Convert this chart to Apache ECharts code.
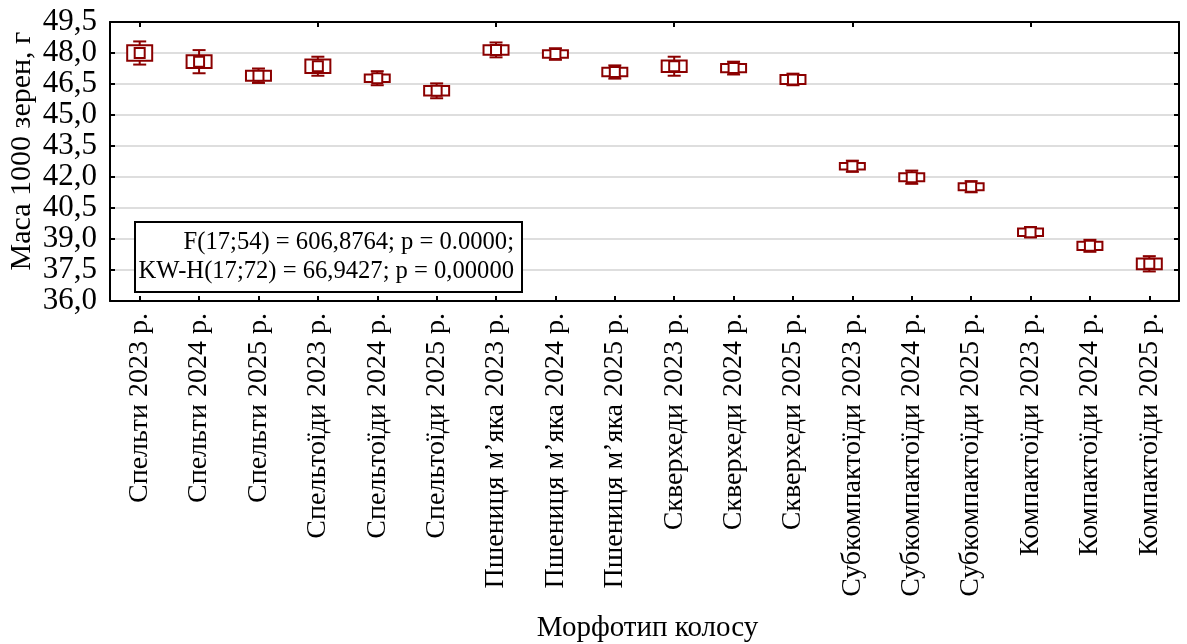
<!DOCTYPE html>
<html>
<head>
<meta charset="utf-8">
<script src="https://cdn.jsdelivr.net/npm/echarts@6/dist/echarts.min.js"></script>
<style>
  html, body { margin: 0; padding: 0; background: #fff; }
  #chart { width: 1187px; height: 644px; }
</style>
</head>
<body>
<div id="chart"></div>
<script>
// Thousand-kernel weight by spike morphotype and year
const categories = [
  'Спельти 2023 р.', 'Спельти 2024 р.', 'Спельти 2025 р.',
  'Спельтоїди 2023 р.', 'Спельтоїди 2024 р.', 'Спельтоїди 2025 р.',
  'Пшениця м’яка 2023 р.', 'Пшениця м’яка 2024 р.', 'Пшениця м’яка 2025 р.',
  'Скверхеди 2023 р.', 'Скверхеди 2024 р.', 'Скверхеди 2025 р.',
  'Субкомпактоїди 2023 р.', 'Субкомпактоїди 2024 р.', 'Субкомпактоїди 2025 р.',
  'Компактоїди 2023 р.', 'Компактоїди 2024 р.', 'Компактоїди 2025 р.'
];
// group means, g
const means = [48.00, 47.58, 46.90, 47.36, 46.78, 46.17, 48.15, 47.95, 47.08,
               47.36, 47.27, 46.72, 42.52, 41.99, 41.53, 39.33, 38.67, 37.80];
// box half-height (standard error), g
const seHalf = [0.37, 0.31, 0.24, 0.33, 0.18, 0.23, 0.23, 0.18, 0.21,
                0.28, 0.20, 0.22, 0.16, 0.19, 0.17, 0.18, 0.20, 0.26];
// whisker half-height, g
const whiskerHalf = [0.56, 0.56, 0.35, 0.46, 0.34, 0.36, 0.36, 0.28, 0.32,
                     0.46, 0.31, 0.28, 0.27, 0.32, 0.27, 0.25, 0.29, 0.37];
const yTicks = ['36,0', '37,5', '39,0', '40,5', '42,0', '43,5', '45,0', '46,5', '48,0', '49,5'];
const yName = 'Маса 1000 зерен, г';
const xName = 'Морфотип колосу';
const statLines = ['F(17;54) = 606,8764; p = 0.0000;', 'KW-H(17;72) = 66,9427; p = 0,00000'];

const FONT = '"Liberation Serif", "Times New Roman", serif';
const RED = '#8b0000';

const rows = categories.map((c, i) => [
  i, means[i],
  means[i] - seHalf[i], means[i] + seHalf[i],
  means[i] - whiskerHalf[i], means[i] + whiskerHalf[i]
]);

function renderItem(params, api) {
  const i = api.value(0);
  const m = api.coord([i, api.value(1)]);
  const bLo = api.coord([i, api.value(2)]);
  const bHi = api.coord([i, api.value(3)]);
  const wLo = api.coord([i, api.value(4)]);
  const wHi = api.coord([i, api.value(5)]);
  const x = m[0];
  const boxW = 25, capW = 13, sq = 10;
  const st = { stroke: RED, lineWidth: 2, fill: null };
  return {
    type: 'group',
    children: [
      { type: 'line', shape: { x1: x, y1: wHi[1], x2: x, y2: bHi[1] }, style: st },
      { type: 'line', shape: { x1: x, y1: bLo[1], x2: x, y2: wLo[1] }, style: st },
      { type: 'line', shape: { x1: x - capW / 2, y1: wHi[1], x2: x + capW / 2, y2: wHi[1] }, style: st },
      { type: 'line', shape: { x1: x - capW / 2, y1: wLo[1], x2: x + capW / 2, y2: wLo[1] }, style: st },
      { type: 'rect', shape: { x: x - boxW / 2, y: bHi[1], width: boxW, height: bLo[1] - bHi[1] },
        style: { stroke: RED, lineWidth: 2, fill: '#fff' } },
      { type: 'rect', shape: { x: x - sq / 2, y: m[1] - sq / 2, width: sq, height: sq },
        style: { stroke: RED, lineWidth: 2, fill: '#fff' } }
    ]
  };
}

const chart = echarts.init(document.getElementById('chart'), null, { renderer: 'canvas' });

const frameLine = { show: true, lineStyle: { color: '#000', width: 2 } };
const innerTick = { show: true, inside: true, length: 5, lineStyle: { color: '#000', width: 2 } };

chart.setOption({
  animation: false,
  backgroundColor: '#fff',
  grid: { left: 110, right: 8, top: 22, bottom: 342 },
  xAxis: [{
    type: 'category',
    data: categories,
    position: 'bottom',
    axisLine: frameLine,
    axisTick: Object.assign({ alignWithLabel: true }, innerTick),
    axisLabel: { rotate: 90, interval: 0, margin: 12, fontFamily: FONT, fontSize: 28, color: '#000' },
    name: xName,
    nameLocation: 'middle',
    nameGap: 313,
    nameTextStyle: { fontFamily: FONT, fontSize: 29, color: '#000', padding: [0, 0, 0, 6] }
  }, {
    type: 'category',
    data: categories,
    position: 'top',
    axisLine: frameLine,
    axisTick: Object.assign({ alignWithLabel: true }, innerTick),
    axisLabel: { show: false }
  }],
  yAxis: [{
    type: 'value',
    min: 36, max: 49.5, interval: 1.5,
    position: 'left',
    axisLine: frameLine,
    axisTick: innerTick,
    axisLabel: {
      fontFamily: FONT, fontSize: 31, color: '#000', margin: 13,
      formatter: (v) => yTicks[Math.round((v - 36) / 1.5)]
    },
    splitLine: { show: true, lineStyle: { color: '#dedede', width: 2 } }
  }, {
    type: 'value',
    min: 36, max: 49.5, interval: 1.5,
    position: 'right',
    axisLine: frameLine,
    axisTick: innerTick,
    axisLabel: { show: false },
    splitLine: { show: false }
  }],
  graphic: [{
    // vertical y-axis title
    type: 'text',
    x: 22, y: 151,
    rotation: Math.PI / 2,
    style: {
      text: yName, align: 'center', verticalAlign: 'middle',
      fontFamily: FONT, fontSize: 30, fill: '#000'
    }
  }, {
    type: 'rect',
    shape: { x: 135, y: 222, width: 387, height: 70 },
    style: { fill: '#fff', stroke: '#000', lineWidth: 2 },
    z: 10
  }, {
    type: 'text',
    x: 514, y: 228,
    style: {
      text: statLines.join('\n'),
      align: 'right', verticalAlign: 'top',
      fontFamily: FONT, fontSize: 24.6, lineHeight: 29, fill: '#000'
    },
    z: 11
  }],
  series: [{
    type: 'custom',
    renderItem: renderItem,
    encode: { x: 0, y: [1, 2, 3, 4, 5] },
    data: rows,
    z: 5
  }]
});
</script>
</body>
</html>
